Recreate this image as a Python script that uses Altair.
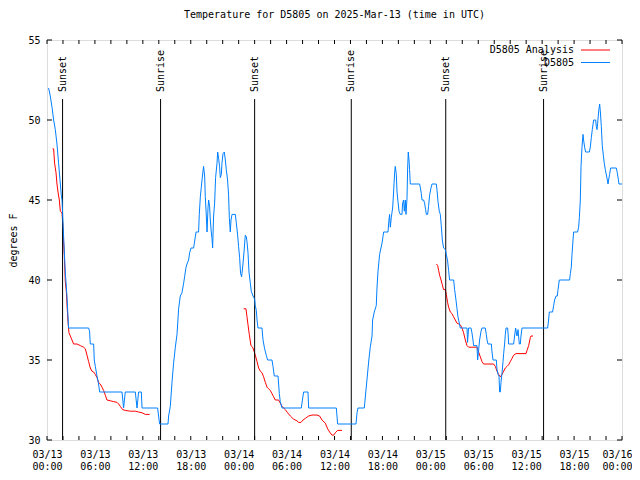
import altair as alt
import pandas as pd

# ---------------- data ----------------
title_text = "Temperature for D5805 on 2025-Mar-13 (time in UTC)"

# observed D5805 temperatures (hours since 03/13 00:00 UTC, deg F)
obs_hours = [0.20, 0.41, 0.63, 0.83, 1.04, 1.25, 1.45, 1.67, 1.79, 1.88, 1.95, 2.08, 2.29, 2.50, 2.63, 2.70,
             5.21, 5.33, 5.42, 5.84, 5.92, 6.05, 6.26, 6.46, 6.59, 9.39, 9.59, 9.80, 11.06, 11.27, 11.47, 11.81,
             11.90, 13.85, 14.10, 15.15, 15.23, 15.44, 15.65, 15.85, 16.07, 16.28, 16.48, 16.69, 16.90, 17.11,
             17.23, 17.41, 17.53, 17.73, 17.86, 18.03, 18.36, 18.57, 18.66, 18.98, 19.07, 19.20, 19.32, 19.41,
             19.53, 19.61, 19.74, 19.82, 19.95, 20.04, 20.16, 20.24, 20.36, 20.45, 20.57, 20.66, 20.74, 20.86,
             20.99, 21.11, 21.29, 21.37, 21.49, 21.61, 21.70, 21.83, 21.91, 22.04, 22.20, 22.33, 22.45, 22.61,
             22.74, 22.83, 22.95, 23.04, 23.17, 23.58, 23.70, 23.87, 23.99, 24.12, 24.24, 24.37, 24.54, 24.71,
             24.83, 24.96, 25.04, 25.17, 25.29, 25.46, 25.58, 25.80, 26.00, 26.08, 26.21, 26.30, 26.42, 26.92,
             27.05, 27.25, 27.46, 27.62, 28.17, 28.30, 28.46, 28.93, 29.09, 29.21, 29.43, 31.84, 32.13, 32.68,
             32.76, 36.23, 36.39, 38.69, 38.82, 38.94, 39.73, 39.92, 40.11, 40.30, 40.48, 40.70, 40.77, 40.98,
             41.23, 41.32, 41.44, 41.65, 41.82, 41.95, 42.07, 42.15, 42.70, 42.82, 42.90, 42.99, 43.11, 43.28,
             43.40, 43.53, 43.61, 43.74, 43.83, 43.95, 44.08, 44.24, 44.45, 44.53, 44.65, 44.74, 44.87, 44.95,
             45.08, 45.16, 45.24, 45.33, 45.40, 45.49, 46.66, 46.74, 46.87, 46.96, 47.16, 47.28, 47.41, 47.50,
             47.66, 47.78, 47.91, 48.08, 48.21, 48.75, 48.84, 48.96, 49.12, 49.25, 49.37, 49.50, 49.66, 49.88,
             50.00, 50.16, 50.29, 50.41, 50.92, 51.04, 51.21, 51.34, 51.46, 51.67, 51.75, 52.59, 52.66, 52.79,
             53.09, 53.21, 53.34, 53.42, 53.84, 53.92, 54.04, 54.17, 54.35, 54.47, 54.88, 55.01, 55.10, 55.22,
             55.64, 55.72, 55.85, 56.26, 56.35, 56.48, 56.60, 56.68, 56.76, 56.85, 56.98, 57.10, 57.18, 57.30,
             57.39, 57.48, 57.68, 57.76, 57.80, 58.43, 58.55, 58.68, 58.77, 58.85, 58.98, 59.05, 59.14, 59.27,
             59.35, 59.48, 62.69, 62.81, 62.90, 63.31, 63.44, 63.56, 63.74, 63.90, 63.99, 64.15, 65.44, 65.53,
             65.65, 65.74, 65.87, 65.94, 66.44, 66.57, 66.66, 66.78, 66.87, 66.99, 67.12, 67.19, 67.32, 67.44,
             67.91, 68.03, 68.16, 68.28, 68.45, 68.70, 68.78, 68.87, 68.95, 69.07, 69.20, 69.28, 69.41, 69.53,
             69.66, 69.78, 69.91, 70.07, 70.25, 70.32, 70.45, 70.57, 71.29, 71.41, 71.54, 71.62, 72.00]
obs_temp = [52.0, 51.5, 50.8, 50.0, 49.4, 48.5, 47.3, 46.0, 45.3, 45.0, 44.2, 42.7, 40.5, 39.0, 37.7, 37.0,
            37.0, 36.8, 36.0, 36.0, 35.0, 34.6, 34.0, 33.5, 33.0, 33.0, 32.0, 33.0, 33.0, 32.0, 33.0, 33.0,
            32.0, 32.0, 31.0, 31.0, 31.5, 32.1, 33.6, 34.8, 35.8, 36.6, 38.2, 39.0, 39.2, 39.8,
            40.2, 40.8, 41.0, 41.25, 41.7, 42.0, 42.0, 42.7, 43.0, 43.0, 44.1, 45.2, 45.8, 46.25,
            46.8, 47.1, 46.5, 45.2, 44.0, 43.0, 44.5, 45.0, 44.6, 43.75, 43.0, 42.6, 42.0, 44.0,
            44.8, 46.4, 47.3, 48.0, 47.6, 47.1, 46.4, 46.6, 47.3, 47.9, 48.0, 47.5, 46.9, 46.25,
            45.3, 43.9, 43.0, 43.75, 44.1, 44.1, 43.6, 42.8, 42.1, 41.4, 40.4, 40.2, 41.0, 42.0,
            42.8, 42.7, 42.4, 41.7, 40.5, 39.8, 39.3, 39.0, 38.8, 38.4, 38.1, 37.5, 37.0, 37.0,
            36.25, 35.7, 35.3, 35.0, 35.0, 34.6, 34.0, 34.0, 32.9, 32.4, 32.0, 32.0, 33.0, 33.0,
            32.0, 32.0, 31.0, 31.0, 31.7, 32.0, 32.0, 33.0, 34.0, 35.0, 35.8, 36.5, 37.5, 38.0,
            38.4, 39.5, 40.5, 41.6, 42.0, 42.3, 42.7, 43.0, 43.0, 43.75, 44.1, 43.3, 43.9, 44.5,
            45.5, 46.7, 47.1, 46.6, 45.5, 44.9, 44.3, 44.1, 44.1, 44.8, 45.0, 44.3, 45.0, 44.1,
            45.1, 47.0, 48.0, 47.5, 46.9, 46.0, 46.0, 45.8, 45.4, 45.0, 45.0, 44.8, 44.4, 44.1,
            44.1, 44.6, 45.3, 45.75, 46.0, 46.0, 45.6, 44.9, 44.3, 44.1, 43.4, 42.5, 42.0, 41.9,
            41.6, 41.2, 40.6, 40.0, 40.0, 39.4, 38.75, 38.2, 37.7, 37.2, 37.0, 37.0, 36.1, 37.0,
            37.0, 36.7, 36.25, 35.9, 35.9, 35.0, 35.6, 36.25, 36.8, 37.0, 37.0, 36.6, 36.25, 36.0,
            36.0, 35.5, 35.0, 35.0, 34.4, 34.1, 34.0, 33.0, 33.0, 33.6, 34.2, 34.9, 35.4, 36.0,
            36.6, 37.0, 37.0, 36.5, 36.0, 36.0, 36.5, 37.0, 36.7, 36.5, 36.9, 36.5, 36.0, 36.0,
            36.5, 37.0, 37.0, 37.5, 38.0, 38.0, 38.4, 38.75, 39.0, 39.0, 39.4, 40.0, 40.0, 40.4,
            40.8, 41.6, 42.5, 43.0, 43.0, 43.3, 43.9, 45.0, 47.1, 48.3, 49.1, 48.75, 48.3, 48.0,
            48.0, 48.3, 48.9, 49.4, 50.0, 50.0, 49.6, 49.4, 49.8, 50.5, 51.0, 50.6, 49.6, 48.4,
            47.8, 47.3, 46.9, 46.5, 46.0, 46.25, 46.6, 47.0, 47.0, 46.7, 46.3, 46.0, 46.0]

# D5805 analysis (three separate runs)
ana1_hours = [0.70, 0.83, 0.95, 1.13, 1.25, 1.38, 1.54, 1.67, 1.88, 2.00, 2.08, 2.17, 2.29, 2.42, 2.50, 2.63,
              2.75, 2.92, 3.13, 3.33, 3.76, 4.17, 4.58, 4.80, 5.01, 5.21, 5.42, 5.63, 5.84, 6.05, 6.26, 6.46,
              6.67, 6.89, 7.09, 7.30, 7.51, 7.93, 8.34, 8.77, 8.97, 9.18, 9.47, 9.80, 10.43, 11.06, 11.47,
              11.90, 12.31, 12.85]
ana1_temp = [48.2, 48.2, 47.3, 46.7, 46.0, 45.5, 45.0, 44.3, 44.2, 43.3, 42.4, 41.5, 39.9, 39.3, 38.5, 37.4,
             36.7, 36.5, 36.25, 36.0, 36.0, 35.9, 35.8, 35.7, 35.3, 34.9, 34.5, 34.3, 34.25, 34.1, 33.9, 33.6,
             33.5, 33.3, 33.1, 32.8, 32.5, 32.45, 32.4, 32.35, 32.25, 32.1, 31.9, 31.85, 31.8, 31.8, 31.75,
             31.7, 31.6, 31.6]
ana2_hours = [24.62, 24.92, 25.04, 25.17, 25.33, 25.54, 25.75, 25.96, 26.08, 26.30, 26.50, 26.71, 26.92, 27.12,
              27.34, 27.55, 27.75, 27.96, 28.17, 28.37, 28.59, 29.00, 29.21, 29.43, 29.84, 30.13, 30.47, 30.88,
              31.30, 31.51, 31.81, 32.06, 32.34, 32.76, 33.18, 33.81, 34.13, 34.44, 34.85, 35.14, 35.39, 35.69,
              35.89, 36.10, 36.39, 36.94]
ana2_temp = [38.2, 38.2, 37.7, 37.2, 36.6, 35.9, 35.8, 35.5, 35.3, 34.9, 34.5, 34.3, 34.2, 33.95,
             33.6, 33.3, 33.2, 33.1, 32.9, 32.7, 32.5, 32.5, 32.3, 32.1, 31.9, 31.7, 31.5, 31.3,
             31.2, 31.1, 31.1, 31.25, 31.35, 31.5, 31.56, 31.56, 31.5, 31.25, 31.05, 30.7, 30.5, 30.3,
             30.3, 30.45, 30.6, 30.6]
ana3_hours = [48.76, 48.92, 49.04, 49.16, 49.34, 49.50, 49.66, 49.88, 50.00, 50.16, 50.29, 50.50, 50.71, 50.91,
              51.13, 51.34, 51.54, 51.75, 51.97, 52.17, 52.38, 52.59, 52.79, 53.84, 54.04, 54.26, 54.47, 54.67,
              55.92, 56.14, 56.35, 56.55, 56.76, 56.98, 57.18, 57.39, 57.60, 57.80, 58.01, 58.23, 58.43, 58.73,
              59.98, 60.11, 60.31, 60.52, 60.61, 60.86]
ana3_temp = [41.0, 40.9, 40.6, 40.3, 40.0, 39.7, 39.4, 39.4, 39.1, 38.6, 38.3, 38.0, 37.9, 37.7,
             37.5, 37.3, 37.25, 37.2, 37.0, 36.7, 36.25, 35.9, 35.8, 35.8, 35.5, 35.2, 34.9, 34.75,
             34.75, 34.6, 34.3, 34.1, 33.95, 34.1, 34.3, 34.5, 34.6, 34.7, 34.9, 35.1, 35.3, 35.4,
             35.4, 35.6, 35.9, 36.4, 36.5, 36.5]

event_hours = [1.95, 14.22, 26.0, 38.1, 49.93, 62.18]
event_names = ["Sunset", "Sunrise", "Sunset", "Sunrise", "Sunset", "Sunrise"]

x_tick_hours = [0, 6, 12, 18, 24, 30, 36, 42, 48, 54, 60, 66, 72]
x_tick_labels = [["03/13", "00:00"], ["03/13", "06:00"], ["03/13", "12:00"], ["03/13", "18:00"],
                 ["03/14", "00:00"], ["03/14", "06:00"], ["03/14", "12:00"], ["03/14", "18:00"],
                 ["03/15", "00:00"], ["03/15", "06:00"], ["03/15", "12:00"], ["03/15", "18:00"],
                 ["03/16", "00:00"]]
x_minor_ticks = list(range(0, 73, 2))
y_ticks = [30, 35, 40, 45, 50, 55]

series_names = ["D5805 Analysis", "D5805"]
series_colors = ["#ff0000", "#0080ff"]

# ---------------- build ----------------
FONT = "DejaVu Sans Mono"
W, H = 575, 400

obs_df = pd.DataFrame({"hour": obs_hours, "temp": obs_temp})
ana_df = pd.concat([
    pd.DataFrame({"hour": ana1_hours, "temp": ana1_temp, "seg": 1}),
    pd.DataFrame({"hour": ana2_hours, "temp": ana2_temp, "seg": 2}),
    pd.DataFrame({"hour": ana3_hours, "temp": ana3_temp, "seg": 3}),
])
ev_df = pd.DataFrame({"hour": event_hours, "name": event_names})
xt_df = pd.DataFrame({"hour": x_minor_ticks})
yt_df = pd.DataFrame({"temp": y_ticks})

label_expr = str(x_tick_labels).replace("'", '"') + "[round(datum.value / 6)]"

xscale = alt.Scale(domain=[0, 72], nice=False, zero=False)
yscale = alt.Scale(domain=[30, 55], nice=False, zero=False)

x_axis = alt.Axis(values=x_tick_hours, labelExpr=label_expr, ticks=False, domain=False, grid=False,
                  labelPadding=9, labelFont=FONT, labelFontSize=10, labelColor="black",
                  labelLineHeight=12, title=None, labelFlush=False, labelOverlap=False,
                  labelOffset={"condition": {"test": "datum.value >= 72", "value": -5}, "value": 0})
y_axis = alt.Axis(values=y_ticks, ticks=False, domain=False, grid=False, labelPadding=7,
                  labelFont=FONT, labelFontSize=10, labelColor="black", title="degrees F",
                  titleFont=FONT, titleFontSize=10, titleFontWeight="normal", titleColor="black",
                  titlePadding=9)

X = alt.X("hour:Q", scale=xscale, axis=x_axis)
Y = alt.Y("temp:Q", scale=yscale, axis=y_axis)

rules = alt.Chart(ev_df).mark_rule(color="black", strokeWidth=1).encode(
    x=X, y=alt.value(59), y2=alt.value(H))
ev_text = alt.Chart(ev_df).mark_text(angle=270, align="left", baseline="middle", font=FONT,
                                     fontSize=10, color="black").encode(
    x=X, y=alt.value(52), text="name:N")

ana_line = alt.Chart(ana_df).mark_line(color=series_colors[0], strokeWidth=1).encode(
    x=X, y=Y, detail="seg:N", order="hour:Q")
obs_line = alt.Chart(obs_df).mark_line(color=series_colors[1], strokeWidth=1).encode(
    x=X, y=Y, order="hour:Q")

xt_bottom = alt.Chart(xt_df).mark_rule(color="black").encode(
    x=X, y=alt.value(H - 4), y2=alt.value(H))
xt_top = alt.Chart(xt_df).mark_rule(color="black").encode(
    x=X, y=alt.value(0), y2=alt.value(4))
yt_left = alt.Chart(yt_df).mark_rule(color="black").encode(
    y=Y, x=alt.value(0), x2=alt.value(5))
yt_right = alt.Chart(yt_df).mark_rule(color="black").encode(
    y=Y, x=alt.value(W - 5), x2=alt.value(W))

leg_layers = []
for i, (nm, col) in enumerate(zip(series_names, series_colors)):
    ly = 10 + 12.5 * i
    ldf = pd.DataFrame({"name": [nm]})
    leg_layers.append(alt.Chart(ldf).mark_text(align="right", baseline="middle", font=FONT,
                                               fontSize=10, color="black").encode(
        x=alt.value(527), y=alt.value(ly), text="name:N"))
    leg_layers.append(alt.Chart(ldf).mark_rule(color=col, strokeWidth=1).encode(
        x=alt.value(534), x2=alt.value(563), y=alt.value(ly)))

chart = alt.layer(
    ana_line, rules, ev_text, obs_line, xt_bottom, xt_top, yt_left, yt_right, *leg_layers
).properties(
    width=W, height=H,
    title=alt.TitleParams(title_text, font=FONT, fontSize=10, fontWeight="normal",
                          color="black", offset=15, anchor="middle"),
    padding={"left": 39, "top": 32, "right": 10, "bottom": 32},
    autosize=alt.AutoSizeParams(type="none"),
).configure_view(stroke="black", strokeWidth=1).configure(background="white")

chart.save("out.html", embed_options={"renderer": "svg", "actions": False})
